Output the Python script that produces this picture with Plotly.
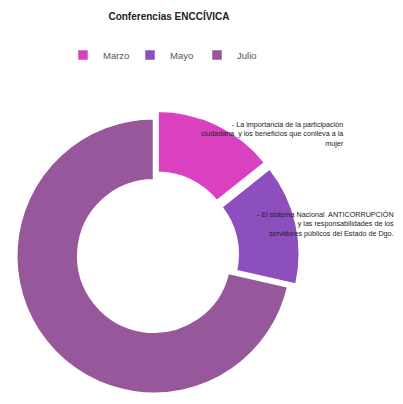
import plotly.graph_objects as go

months = ["Marzo", "Mayo", "Julio"]
values = [1, 1, 5]
colors = ["#d941c0", "#8d4fbd", "#96589a"]
pulls = [0.06, 0.06, 0.0]
slice_labels = [
    "- La importancia de la participación<br>ciudadana  y los beneficios que conlleva a la<br>mujer",
    "- El sistema Nacional  ANTICORRUPCIÓN<br>y las responsabilidades de los<br>servidores públicos del Estado de Dgo.",
    "",
]
title_text = "Conferencias ENCCÍVICA"

W, H = 403, 404
OFF = 8  # the page places the figure 8 px from the window's top-left corner


def px(x):
    return (x - OFF) / W


def py(y):
    return 1 - (y - OFF) / H


# donut centre and domain half-size, in window pixels
CX, CY, HALF = 154, 256, 146

fig = go.Figure()
fig.add_trace(go.Pie(
    labels=months,
    values=values,
    hole=0.55,
    sort=False,
    direction="clockwise",
    rotation=0,
    pull=pulls,
    marker=dict(colors=colors, line=dict(color="white", width=2.5)),
    textinfo="none",
    hoverinfo="label+value",
    domain=dict(x=[px(CX - HALF), px(CX + HALF)],
                y=[py(CY + HALF), py(CY - HALF)]),
))

# label positions in window pixels (right edge, middle)
label_pos = [(346, 134), (396, 224), None]
for txt, pos in zip(slice_labels, label_pos):
    if not txt or pos is None:
        continue
    fig.add_annotation(
        x=px(pos[0]), y=py(pos[1]), xref="paper", yref="paper",
        xanchor="right", yanchor="middle", align="right",
        text=txt, showarrow=False,
        font=dict(family="Liberation Sans", size=7.2, color="#222222"),
    )

fig.update_layout(
    width=W, height=H,
    margin=dict(l=0, r=0, t=0, b=0),
    paper_bgcolor="white",
    plot_bgcolor="white",
    title=dict(
        text="<b>" + title_text + "</b>",
        x=px(169), xanchor="center", y=py(16), yanchor="middle",
        font=dict(family="Liberation Sans", size=10, color="#222222"),
    ),
    showlegend=True,
    legend=dict(
        orientation="h",
        x=px(63), xanchor="left",
        y=py(55), yanchor="middle",
        font=dict(family="Liberation Sans", size=9.5, color="#555555"),
        entrywidth=22, entrywidthmode="pixels",
        itemclick=False,
    ),
)

fig.write_html("out.html")
